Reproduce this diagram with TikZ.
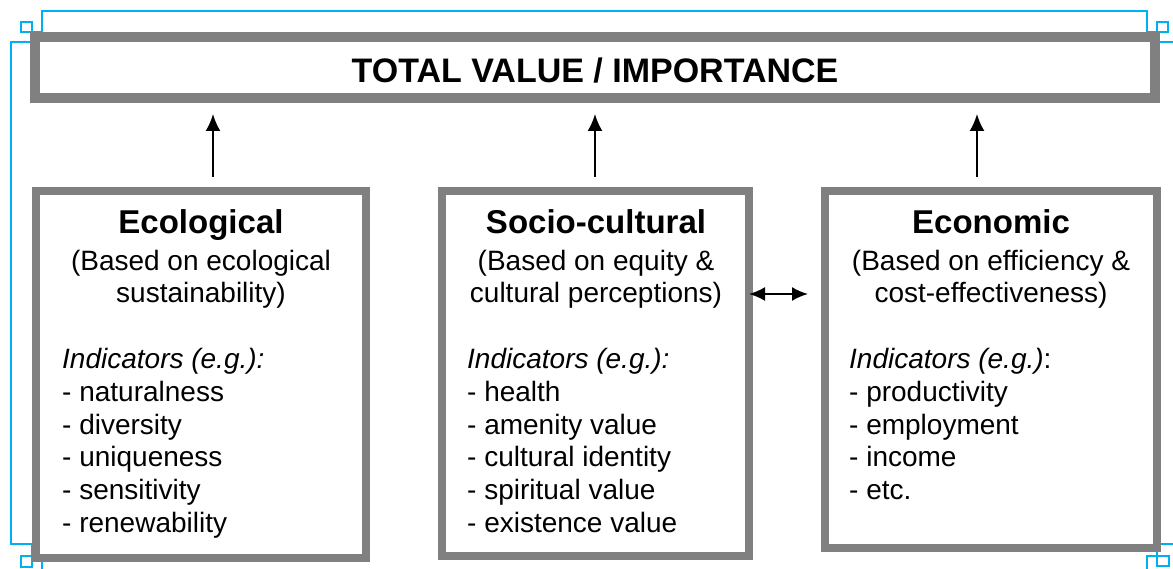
\documentclass[tikz,border=0pt]{standalone}
\usepackage{fontspec}
\setmainfont{Liberation Sans}
\usetikzlibrary{arrows.meta}
\definecolor{selblue}{RGB}{0,176,240}
\tikzset{
  panel/.style={draw=gray, line width=8pt, inner sep=0pt},
  head/.style={anchor=base, inner sep=0pt, font=\fontsize{33}{38}\selectfont\bfseries},
  txtc/.style={anchor=base, inner sep=0pt, font=\fontsize{28}{32}\selectfont},
  txtl/.style={anchor=base west, inner sep=0pt, font=\fontsize{28}{32}\selectfont},
  up/.style={line width=2pt, -{Latex[length=17pt,width=15pt]}},
  both/.style={line width=2pt, {Latex[length=16pt,width=14pt]}-{Latex[length=16pt,width=14pt]}},
  sel/.style={selblue, line width=2pt}
}
\begin{document}
\begin{tikzpicture}[x=1pt,y=-1pt]
\useasboundingbox (0,0) rectangle (1173,569);
\draw[sel] (42,32)--(42,11)--(1147,11)--(1147,32)--(1157,32)--(1157,42)--(1173,42);
\draw[sel] (32,32)--(42,32);
\draw[sel] (32,32)--(32,42)--(11,42)--(11,544)--(32,544)--(32,556)--(42,556)--(42,569);
\draw[sel] (1173,544)--(1157,544)--(1157,556)--(1147,556)--(1147,569);
\draw[sel] (21,22) rectangle (32,32);
\draw[sel] (1157,22) rectangle (1168,32);
\draw[sel] (21,556) rectangle (32,567);
\draw[sel] (1157,556) rectangle (1169,566);

\node[panel, line width=10pt, minimum width=1120pt, minimum height=61pt] (total) at (595,67.5) {};
\node[anchor=base, inner sep=0pt, font=\fontsize{34}{40}\selectfont\bfseries] (title) at (595,83) {TOTAL VALUE / IMPORTANCE};

\node[panel, minimum width=330pt, minimum height=367pt] (eco) at (201,374.5) {};
\node[panel, minimum width=307pt, minimum height=365pt] (soc) at (595.5,373.5) {};
\node[panel, minimum width=332pt, minimum height=357pt] (econ) at (991,369.5) {};

\foreach \b/\x in {eco/213, soc/595, econ/977}
  \draw[up, shorten <=10pt, shorten >=11pt] (\b.north -| \x,0) -- (total.south -| \x,0);
\draw[both, shorten <=-4pt, shorten >=13pt] (soc.east |- 0,294) -- (econ.west |- 0,294);

\node[head] (eco-h) at (201,234) {Ecological};
\node[txtc] (eco-a) at (201,271) {(Based on ecological};
\node[txtc] (eco-b) at (201,303) {sustainability)};
\node[txtl, font=\fontsize{28}{32}\selectfont\itshape] (eco-i) at (62,369) {Indicators (e.g.):};
\foreach \t [count=\i] in {naturalness, diversity, uniqueness, sensitivity, renewability}
  \node[txtl] (eco-\i) at (62,369+32.6*\i) {- \t};

\node[head] (soc-h) at (596,234) {Socio-cultural};
\node[txtc] (soc-a) at (596,271) {(Based on equity \&};
\node[txtc] (soc-b) at (596,303) {cultural perceptions)};
\node[txtl, font=\fontsize{28}{32}\selectfont\itshape] (soc-i) at (467,369) {Indicators (e.g.):};
\foreach \t [count=\i] in {health, amenity value, cultural identity, spiritual value, existence value}
  \node[txtl] (soc-\i) at (467,369+32.6*\i) {- \t};

\node[head] (econ-h) at (991,234) {Economic};
\node[txtc] (econ-a) at (991,271) {(Based on efficiency \&};
\node[txtc] (econ-b) at (991,303) {cost-effectiveness)};
\node[txtl] (econ-i) at (849,369) {\textit{Indicators (e.g.)}:};
\foreach \t [count=\i] in {productivity, employment, income, etc.}
  \node[txtl] (econ-\i) at (849,369+32.6*\i) {- \t};
\end{tikzpicture}
\end{document}
